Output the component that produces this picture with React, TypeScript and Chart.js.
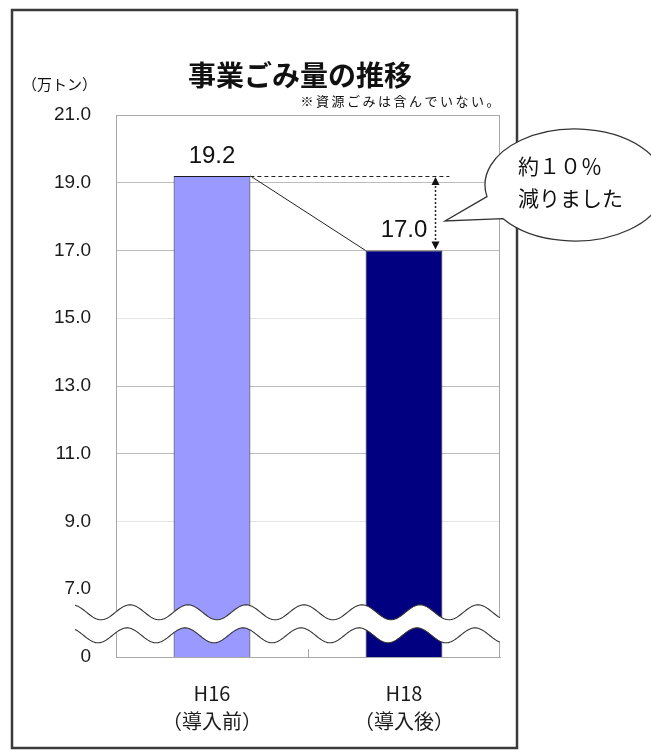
import React, { useEffect, useRef } from 'react';
import { Chart, registerables } from 'chart.js';
Chart.register(...registerables);

// ---- data ----
const categories: string[][] = [['H16', '（導入前）'], ['H18', '（導入後）']];
const values: number[] = [19.2, 17.0];
const barColors: string[] = ['#9999ff', '#000080'];
const yMin = 5; // shown as "0" (broken axis)
const yMax = 21;
const yStep = 2;
const brokenTickLabel = '0';
const titleText = '事業ごみ量の推移';
const subtitleText = '※資源ごみは含んでいない。';
const unitText = '（万トン）';
const calloutLines: string[] = ['約１０％', '減りました'];

const LATIN = '"Liberation Sans", "Noto Sans CJK JP", sans-serif';
const CJK = '"Noto Sans CJK JP", "Liberation Sans", sans-serif';

const decor = {
  id: 'decor',
  beforeDraw(chart: any) {
    const { ctx } = chart;
    ctx.save();
    ctx.fillStyle = '#ffffff';
    ctx.fillRect(0, 0, chart.width, chart.height);
    ctx.restore();
  },
  afterDatasetsDraw(chart: any) {
    const { ctx, chartArea: ca, scales } = chart;
    const ys = scales.y;
    const meta = chart.getDatasetMeta(0);
    const b0 = meta.data[0];
    const b1 = meta.data[1];
    ctx.save();

    // plot border (top/right)
    ctx.strokeStyle = '#a8a8a8';
    ctx.lineWidth = 1;
    ctx.strokeRect(ca.left + 0.5, ca.top + 0.5, ca.right - ca.left - 1, ca.bottom - ca.top);

    // category boundary tick
    const xs = scales.x;
    const mid = (xs.getPixelForValue(0) + xs.getPixelForValue(1)) / 2;
    ctx.beginPath();
    ctx.moveTo(Math.round(mid) + 0.5, ca.bottom);
    ctx.lineTo(Math.round(mid) + 0.5, ca.bottom - 8);
    ctx.stroke();

    // broken-axis waves
    const y7 = ys.getPixelForValue(yMin + yStep);
    const y0 = ys.getPixelForValue(yMin);
    const gap = y0 - y7;
    const upC = y7 + gap * 0.34;
    const loC = y7 + gap * 0.68;
    const amp = gap * 0.11;
    const wl = 58;
    const xStart = ca.left - 41;
    const xEnd = ca.right;
    const wave = (x: number, c: number, ph: number) => c - amp * Math.cos((2 * Math.PI * (x - ph)) / wl);
    ctx.beginPath();
    for (let x = xStart; x <= xEnd; x += 1) {
      const y = wave(x, upC, 130);
      if (x === xStart) ctx.moveTo(x, y); else ctx.lineTo(x, y);
    }
    for (let x = xEnd; x >= xStart; x -= 1) ctx.lineTo(x, wave(x, loC, 127));
    ctx.closePath();
    ctx.fillStyle = '#ffffff';
    ctx.fill();
    ctx.strokeStyle = '#333333';
    ctx.lineWidth = 1.1;
    ctx.beginPath();
    for (let x = xStart; x <= xEnd; x += 1) {
      const y = wave(x, upC, 130);
      if (x === xStart) ctx.moveTo(x, y); else ctx.lineTo(x, y);
    }
    ctx.stroke();
    ctx.beginPath();
    for (let x = xStart; x <= xEnd; x += 1) {
      const y = wave(x, loC, 127);
      if (x === xStart) ctx.moveTo(x, y); else ctx.lineTo(x, y);
    }
    ctx.stroke();

    // value labels
    ctx.fillStyle = '#111111';
    ctx.font = `24px ${LATIN}`;
    ctx.textAlign = 'center';
    ctx.textBaseline = 'middle';
    meta.data.forEach((b: any, i: number) => {
      ctx.fillText(values[i].toFixed(1), b.x, b.y - 20);
    });

    // connecting line
    const r0 = b0.x + b0.width / 2;
    const l1 = b1.x - b1.width / 2;
    const r1 = b1.x + b1.width / 2;
    ctx.strokeStyle = '#222222';
    ctx.lineWidth = 1;
    ctx.beginPath();
    ctx.moveTo(r0, b0.y);
    ctx.lineTo(l1, b1.y);
    ctx.stroke();

    // dashed reference line
    ctx.setLineDash([4, 3]);
    ctx.beginPath();
    ctx.moveTo(r0, Math.round(b0.y) + 0.5);
    ctx.lineTo(r1 + 7, Math.round(b0.y) + 0.5);
    ctx.stroke();

    // dotted double arrow
    const ax = Math.round(r1 - 7) + 0.5;
    ctx.setLineDash([2, 2]);
    ctx.lineWidth = 1.5;
    ctx.beginPath();
    ctx.moveTo(ax, b0.y + 6);
    ctx.lineTo(ax, b1.y - 6);
    ctx.stroke();
    ctx.setLineDash([]);
    ctx.fillStyle = '#111111';
    ctx.beginPath();
    ctx.moveTo(ax, b0.y + 1);
    ctx.lineTo(ax - 4, b0.y + 9);
    ctx.lineTo(ax + 4, b0.y + 9);
    ctx.closePath();
    ctx.fill();
    ctx.beginPath();
    ctx.moveTo(ax, b1.y - 1);
    ctx.lineTo(ax - 4, b1.y - 9);
    ctx.lineTo(ax + 4, b1.y - 9);
    ctx.closePath();
    ctx.fill();

    ctx.restore();
  },
  afterDraw(chart: any) {
    const { ctx } = chart;
    ctx.save();
    // outer frame
    ctx.strokeStyle = '#3a3a3a';
    ctx.lineWidth = 2.5;
    ctx.strokeRect(12, 10, 505, 738);

    // title / subtitle / unit
    ctx.fillStyle = '#111111';
    ctx.textBaseline = 'middle';
    ctx.textAlign = 'center';
    ctx.font = `bold 28px ${CJK}`;
    ctx.fillText(titleText, 300, 75);
    ctx.textAlign = 'right';
    ctx.font = `13px ${CJK}`;
    try { (ctx as any).letterSpacing = '2.5px'; } catch (e) {}
    ctx.fillText(subtitleText, 502, 101);
    try { (ctx as any).letterSpacing = '0px'; } catch (e) {}
    ctx.textAlign = 'left';
    ctx.font = `15px ${CJK}`;
    ctx.fillText(unitText, 22, 84);

    // callout bubble
    const cx = 575, cy = 185, rx = 90, ry = 56;
    const a1 = (168 * Math.PI) / 180;
    const a2 = (143 * Math.PI) / 180;
    ctx.beginPath();
    ctx.moveTo(cx + rx * Math.cos(a1), cy + ry * Math.sin(a1));
    ctx.lineTo(445, 221);
    ctx.lineTo(cx + rx * Math.cos(a2), cy + ry * Math.sin(a2));
    ctx.ellipse(cx, cy, rx, ry, 0, a2, a1, true);
    ctx.closePath();
    ctx.fillStyle = '#ffffff';
    ctx.fill();
    ctx.strokeStyle = '#333333';
    ctx.lineWidth = 1.3;
    ctx.stroke();
    ctx.fillStyle = '#111111';
    ctx.font = `21px ${CJK}`;
    ctx.textAlign = 'left';
    ctx.fillText(calloutLines[0], 518, 166);
    ctx.fillText(calloutLines[1], 518, 198);
    ctx.restore();
  },
};

export default function App() {
  const ref = useRef<HTMLCanvasElement>(null);
  useEffect(() => {
    if (!ref.current) return;
    const chart = new Chart(ref.current, {
      type: 'bar',
      data: {
        labels: categories,
        datasets: [
          {
            data: values,
            backgroundColor: barColors,
            borderColor: '#1a1a1a',
            borderWidth: 1,
            barPercentage: 0.4,
            categoryPercentage: 1,
          },
        ],
      },
      options: {
        responsive: false,
        animation: false,
        devicePixelRatio: 1,
        layout: { padding: { top: 115, right: 151, left: 0, bottom: 0 } },
        plugins: { legend: { display: false }, tooltip: { enabled: false }, title: { display: false } },
        scales: {
          x: {
            grid: { display: false, drawTicks: false },
            border: { display: true, color: '#a8a8a8' },
            ticks: {
              color: '#1a1a1a',
              font: { family: CJK, size: 20, lineHeight: 1.4 },
              padding: 22,
              maxRotation: 0,
              autoSkip: false,
            },
            afterFit: (s: any) => { s.height = 95; },
          },
          y: {
            min: yMin,
            max: yMax,
            grid: {
              drawTicks: false,
              color: (c: any) => {
                const v = c.tick?.value;
                if (v === yMin || v === yMin + yStep || v === yMax) return 'rgba(0,0,0,0)';
                if (v === 15 || v === 9) return '#e4e4e4';
                return '#bdbdbd';
              },
            },
            border: { display: true, color: '#a8a8a8' },
            ticks: {
              stepSize: yStep,
              color: '#1a1a1a',
              font: { family: LATIN, size: 19 },
              padding: 25,
              callback: (v: any) => (v === yMin ? brokenTickLabel : Number(v).toFixed(1)),
            },
            afterFit: (s: any) => { s.width = 116; },
          },
        },
      },
      plugins: [decor],
    });
    return () => chart.destroy();
  }, []);
  return (
    <div style={{ position: 'fixed', left: 0, top: 0, width: 651, height: 752, background: '#fff' }}>
      <canvas ref={ref} width={651} height={752} style={{ display: 'block' }} />
    </div>
  );
}
